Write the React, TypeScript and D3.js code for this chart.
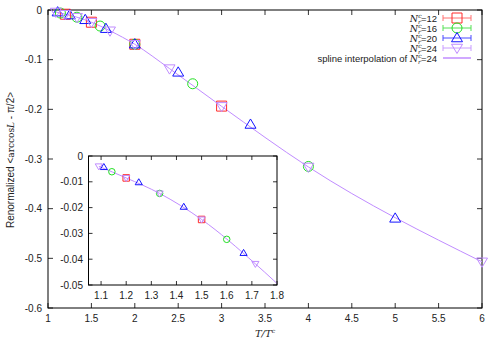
import React, { useEffect, useRef } from "react";
import * as d3 from "d3";

// T/T^c values and renormalized Polyakov loop for each N^c_r
const tc12 = [1.2, 1.5, 2.0, 3.0];
const val12 = [-0.0085, -0.0246, -0.069, -0.1935];
const tc16 = [1.143, 1.333, 1.6, 2.0, 2.667, 4.0];
const val16 = [-0.0061, -0.0145, -0.0323, -0.069, -0.1485, -0.315];
const tc20 = [1.111, 1.25, 1.429, 1.667, 2.0, 2.5, 3.333, 5.0];
const val20 = [-0.0043, -0.0102, -0.0197, -0.0376, -0.0688, -0.1255, -0.2305, -0.4195];
const tc24 = [1.091, 1.2, 1.333, 1.5, 1.714, 2.0, 2.4, 3.0, 4.0, 6.0];
const val24 = [-0.004, -0.0085, -0.0145, -0.0246, -0.0418, -0.069, -0.118, -0.194, -0.316, -0.507];

const xTicks = [1, 1.5, 2, 2.5, 3, 3.5, 4, 4.5, 5, 5.5, 6];
const yTicks = [0, -0.1, -0.2, -0.3, -0.4, -0.5, -0.6];
const insetXTicks = [1.1, 1.2, 1.3, 1.4, 1.5, 1.6, 1.7, 1.8];
const insetYTicks = [0, -0.01, -0.02, -0.03, -0.04, -0.05];

const series = [
  { label: "12", tc: tc12, val: val12, shape: "square", color: "#ff2a2a", light: "#ff7070" },
  { label: "16", tc: tc16, val: val16, shape: "circle", color: "#22e022", light: "#55e055" },
  { label: "20", tc: tc20, val: val20, shape: "tri", color: "#1414ff", light: "#4a4aff" },
  { label: "24", tc: tc24, val: val24, shape: "dtri", color: "#c08cff", light: "#c89cff" },
];
const splineColor = "#c08cff";
const FONT = "'Liberation Sans', Arial, sans-serif";
const SERIF = "'DejaVu Serif', serif";

function markerPath(shape: string, s: number) {
  const h = s / 2;
  if (shape === "square") return `M${-h},${-h}H${h}V${h}H${-h}Z`;
  if (shape === "circle") return `M${h},0A${h},${h} 0 1,1 ${-h},0A${h},${h} 0 1,1 ${h},0Z`;
  if (shape === "tri") return `M0,${-h * 1.1}L${h * 1.1},${h * 0.75}L${-h * 1.1},${h * 0.75}Z`;
  return `M0,${h * 1.1}L${h * 1.1},${-h * 0.75}L${-h * 1.1},${-h * 0.75}Z`;
}

export default function App() {
  const ref = useRef<SVGSVGElement>(null);

  useEffect(() => {
    const svg = d3.select(ref.current);
    svg.selectAll("*").remove();

    const x = d3.scaleLinear().domain([1, 6]).range([48, 482]);
    const y = d3.scaleLinear().domain([-0.6, 0]).range([308, 10]);

    // main frame + inward ticks
    const g = svg.append("g");
    const tk = 5;
    xTicks.forEach((t) => {
      g.append("line").attr("x1", x(t)).attr("x2", x(t)).attr("y1", 308).attr("y2", 308 - tk).attr("stroke", "#333");
      g.append("line").attr("x1", x(t)).attr("x2", x(t)).attr("y1", 10).attr("y2", 10 + tk).attr("stroke", "#333");
      g.append("text").attr("x", x(t)).attr("y", 322).attr("text-anchor", "middle")
        .attr("font-family", FONT).attr("font-size", 10).attr("fill", "#222").text(String(t));
    });
    yTicks.forEach((t) => {
      g.append("line").attr("x1", 48).attr("x2", 48 + tk).attr("y1", y(t)).attr("y2", y(t)).attr("stroke", "#333");
      g.append("line").attr("x1", 482).attr("x2", 482 - tk).attr("y1", y(t)).attr("y2", y(t)).attr("stroke", "#333");
      g.append("text").attr("x", 42).attr("y", y(t) + 3.5).attr("text-anchor", "end")
        .attr("font-family", FONT).attr("font-size", 10).attr("fill", "#222").text(String(t));
    });
    g.append("rect").attr("x", 48).attr("y", 10).attr("width", 434).attr("height", 298)
      .attr("fill", "none").attr("stroke", "#000");

    const pts24: [number, number][] = tc24.map((t, i) => [t, val24[i]]);
    const mainLine = d3.line<[number, number]>().x((d) => x(d[0])).y((d) => y(d[1])).curve(d3.curveMonotoneX);
    g.append("path").attr("d", mainLine(pts24)).attr("fill", "none").attr("stroke", splineColor).attr("stroke-width", 1);

    series.forEach((s) => {
      g.append("g").selectAll("path").data(s.tc.map((t, i) => [t, s.val[i]])).join("path")
        .attr("transform", (d) => `translate(${x(d[0])},${y(d[1])})`)
        .attr("d", markerPath(s.shape, 10))
        .attr("fill", "none").attr("stroke", s.color).attr("stroke-width", 1);
    });

    // inset
    const ix = d3.scaleLinear().domain([1.05, 1.8]).range([88.5, 277]);
    const iy = d3.scaleLinear().domain([-0.05, 0]).range([285, 156]);
    const ig = svg.append("g");
    ig.append("rect").attr("x", 88.5).attr("y", 156).attr("width", 188.5).attr("height", 129).attr("fill", "#fff");
    svg.append("clipPath").attr("id", "insetClip").append("rect")
      .attr("x", 88.5).attr("y", 156).attr("width", 188.5).attr("height", 129);
    const itk = 4;
    insetXTicks.forEach((t) => {
      ig.append("line").attr("x1", ix(t)).attr("x2", ix(t)).attr("y1", 285).attr("y2", 285 - itk).attr("stroke", "#333");
      ig.append("line").attr("x1", ix(t)).attr("x2", ix(t)).attr("y1", 156).attr("y2", 156 + itk).attr("stroke", "#333");
      ig.append("text").attr("x", ix(t)).attr("y", 299).attr("text-anchor", "middle")
        .attr("font-family", FONT).attr("font-size", 10).attr("fill", "#222").text(t.toFixed(1));
    });
    insetYTicks.forEach((t) => {
      ig.append("line").attr("x1", 88.5).attr("x2", 88.5 + itk).attr("y1", iy(t)).attr("y2", iy(t)).attr("stroke", "#333");
      ig.append("line").attr("x1", 277).attr("x2", 277 - itk).attr("y1", iy(t)).attr("y2", iy(t)).attr("stroke", "#333");
      ig.append("text").attr("x", 83).attr("y", iy(t) + 3.5).attr("text-anchor", "end")
        .attr("font-family", FONT).attr("font-size", 10).attr("fill", "#222").text(t === 0 ? "0" : t.toFixed(2));
    });
    const insetLine = d3.line<[number, number]>().x((d) => ix(d[0])).y((d) => iy(d[1])).curve(d3.curveMonotoneX);
    const clipped = ig.append("g").attr("clip-path", "url(#insetClip)");
    clipped.append("path").attr("d", insetLine(pts24)).attr("fill", "none").attr("stroke", splineColor).attr("stroke-width", 1);
    series.forEach((s) => {
      clipped.append("g").selectAll("path").data(s.tc.map((t, i) => [t, s.val[i]]).filter((d) => d[0] <= 1.8)).join("path")
        .attr("transform", (d) => `translate(${ix(d[0])},${iy(d[1])})`)
        .attr("d", markerPath(s.shape, 6.5))
        .attr("fill", "none").attr("stroke", s.color).attr("stroke-width", 1);
    });
    ig.append("rect").attr("x", 88.5).attr("y", 156).attr("width", 188.5).attr("height", 129)
      .attr("fill", "none").attr("stroke", "#000");

    // legend
    const lg = svg.append("g").attr("font-family", FONT).attr("font-size", 9.5).attr("fill", "#222");
    const nLabel = (t: any, val: string) => {
      t.append("tspan").attr("font-family", SERIF).attr("font-style", "italic").text("N");
      t.append("tspan").attr("font-size", 6).attr("dy", -3.5).attr("font-family", SERIF).attr("font-style", "italic").text("c");
      t.append("tspan").attr("font-size", 6).attr("dx", -3.5).attr("dy", 5.5).attr("font-family", SERIF).attr("font-style", "italic").text("r");
      t.append("tspan").attr("dy", -2).text("=" + val);
    };
    series.forEach((s, i) => {
      const yy = 18 + i * 10;
      const t = lg.append("text").attr("x", 437).attr("y", yy + 3.5).attr("text-anchor", "end");
      nLabel(t, s.label);
      lg.append("line").attr("x1", 443).attr("x2", 471).attr("y1", yy).attr("y2", yy).attr("stroke", s.light);
      lg.append("line").attr("x1", 443).attr("x2", 443).attr("y1", yy - 3).attr("y2", yy + 3).attr("stroke", s.light);
      lg.append("line").attr("x1", 471).attr("x2", 471).attr("y1", yy - 3).attr("y2", yy + 3).attr("stroke", s.light);
      lg.append("path").attr("transform", `translate(457,${yy})`).attr("d", markerPath(s.shape, 10))
        .attr("fill", "none").attr("stroke", s.color);
    });
    const st = lg.append("text").attr("x", 437).attr("y", 61.5).attr("text-anchor", "end");
    st.append("tspan").text("spline interpolation of ");
    nLabel(st, "24");
    lg.append("line").attr("x1", 443).attr("x2", 471).attr("y1", 58).attr("y2", 58).attr("stroke", splineColor).attr("stroke-width", 1.5);

    // axis titles
    const xt = svg.append("text").attr("x", 265).attr("y", 337).attr("text-anchor", "middle")
      .attr("font-family", SERIF).attr("font-style", "italic").attr("font-size", 10).attr("fill", "#222");
    xt.append("tspan").text("T/T");
    xt.append("tspan").attr("font-size", 6).attr("dy", -4).text("c");

    const yt = svg.append("text").attr("transform", "translate(14,160) rotate(-90)").attr("text-anchor", "middle")
      .attr("font-family", FONT).attr("font-size", 10).attr("fill", "#222");
    yt.append("tspan").text("Renormalized <");
    yt.append("tspan").attr("font-family", SERIF).attr("font-size", 9).text("arccos");
    yt.append("tspan").attr("font-family", SERIF).attr("font-style", "italic").attr("font-size", 9).text("L");
    yt.append("tspan").text(" - π/2>");
  }, []);

  return (
    <svg
      ref={ref}
      width={500}
      height={350}
      style={{ position: "absolute", left: 0, top: 0, background: "#fff" }}
    />
  );
}
